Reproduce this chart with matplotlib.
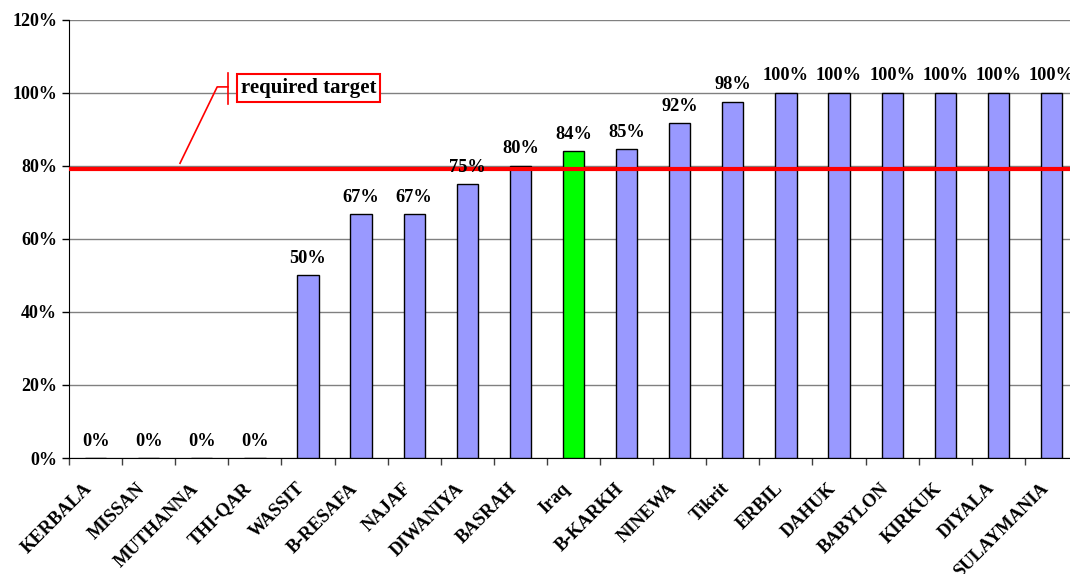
import matplotlib.pyplot as plt
import matplotlib.transforms as mtransforms
from matplotlib.ticker import FixedLocator, PercentFormatter

# category names and coverage values (%)
regions = ['KERBALA', 'MISSAN', 'MUTHANNA', 'THI-QAR', 'WASSIT', 'B-RESAFA',
           'NAJAF', 'DIWANIYA', 'BASRAH', 'Iraq', 'B-KARKH', 'NINEWA', 'Tikrit',
           'ERBIL', 'DAHUK', 'BABYLON', 'KIRKUK', 'DIYALA', 'SULAYMANIA']
coverage = [0, 0, 0, 0, 50, 66.7, 66.7, 75, 80, 84, 84.6, 91.7, 97.6,
            100, 100, 100, 100, 100, 100]
highlight = 'Iraq'
target = 79.0

plt.rcParams['font.family'] = ['Liberation Serif', 'DejaVu Serif']
plt.rcParams['font.weight'] = 'bold'

fig = plt.figure(figsize=(10.7, 5.74), dpi=100)
ax = fig.add_axes([0.0645, 0.202, 0.943, 0.7637])

x = list(range(len(regions)))
colors = ['#00ff00' if r == highlight else '#9999ff' for r in regions]
bars = ax.bar(x, coverage, width=0.4, color=colors, edgecolor='black',
              linewidth=1, zorder=3)

for xi, v in zip(x, coverage):
    ax.annotate(f"{v:.0f}%", (xi, v), xytext=(0, 6), textcoords='offset points',
                ha='center', va='bottom', fontsize=13.2, fontweight='bold',
                zorder=5)

# required target line
ax.axhline(target, color='red', linewidth=3, zorder=4)

ax.set_xlim(-0.5, len(regions) - 0.5)
ax.set_ylim(0, 120)
ax.yaxis.set_major_locator(FixedLocator([0, 20, 40, 60, 80, 100, 120]))
ax.yaxis.set_major_formatter(PercentFormatter(decimals=0))
ax.grid(axis='y', color='#808080', linewidth=1, zorder=0)
ax.set_axisbelow(True)

ax.set_xticks(x)
ax.set_xticklabels(regions, rotation=45, ha='right', va='center',
                   rotation_mode='anchor', fontsize=13.3, fontweight='bold')
ax.tick_params(axis='x', which='major', length=0, pad=20)
# nudge the slanted labels a little to the left
shift = mtransforms.ScaledTranslation(-0.06, 0, fig.dpi_scale_trans)
for lab in ax.get_xticklabels():
    lab.set_transform(lab.get_transform() + shift)
ax.set_xticks([i - 0.5 for i in range(len(regions) + 1)], minor=True)
ax.tick_params(axis='x', which='minor', length=5, width=1, color='#404040')
ax.tick_params(axis='y', length=5, width=1, labelsize=13)
for lab in ax.get_yticklabels():
    lab.set_fontweight('bold')

for side in ['top', 'right']:
    ax.spines[side].set_visible(False)
ax.spines['left'].set_color('black')
ax.spines['bottom'].set_color('black')

# callout for the target line: leader, bracket and boxed label
ax.plot([1.59, 2.29, 2.49], [80.7, 101.6, 101.6], color='red', lw=1.2,
        zorder=6, clip_on=False)
ax.plot([2.49, 2.49], [97.0, 105.4], color='red', lw=1.2, zorder=6)
ax.text(2.74, 101.3, 'required target', fontsize=15, fontweight='bold',
        ha='left', va='center', zorder=7,
        bbox=dict(boxstyle='square,pad=0.18', fc='white', ec='red', lw=1.5))

fig.savefig('out.png', dpi=100)
